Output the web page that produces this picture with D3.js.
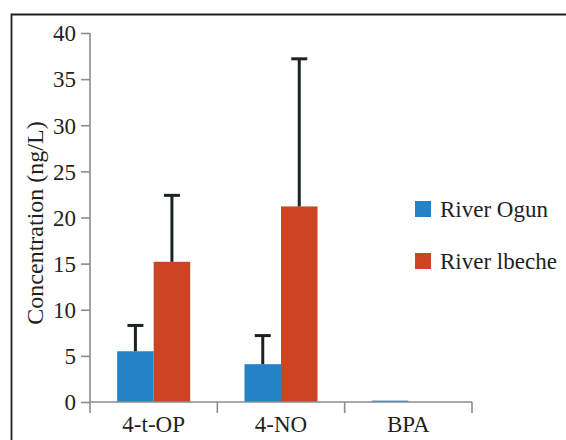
<!DOCTYPE html>
<html><head><meta charset="utf-8">
<script src="https://cdn.jsdelivr.net/npm/d3@7"></script>
<style>body{margin:0;background:#fff}svg{display:block}</style>
</head><body>
<script>
const categories = ["4-t-OP", "4-NO", "BPA"];
const seriesNames = ["River Ogun", "River lbeche"];
const ogunValues = [5.5, 4.1, 0.15];
const ogunErrors = [8.3, 7.2, null];
const ibecheValues = [15.2, 21.2, 0];
const ibecheErrors = [22.4, 37.2, null];
const yTicks = [0, 5, 10, 15, 20, 25, 30, 35, 40];
const colors = ["#2383c4", "#cc4423"];

const W = 566, H = 440;
const svg = d3.select("body").append("svg").attr("width", W).attr("height", H);
const font = "'Liberation Serif','Times New Roman',serif";

// frame
svg.append("path").attr("d", `M11.5,${H} V14.5 H${W}`).attr("fill", "none")
  .attr("stroke", "#231f1c").attr("stroke-width", 1.8);

const x0 = d3.scaleBand().domain(categories).range([90, 472]);
const y = d3.scaleLinear().domain([0, 40]).range([402, 33]);
const x1 = d3.scaleBand().domain(seriesNames).range([0, 73]);
const off = (x0.bandwidth() - 73) / 2;

const data = categories.map((c, i) => ({
  cat: c,
  vals: [
    {s: seriesNames[0], v: ogunValues[i], e: ogunErrors[i], col: colors[0]},
    {s: seriesNames[1], v: ibecheValues[i], e: ibecheErrors[i], col: colors[1]}
  ]
}));

const g = svg.append("g");
data.forEach(d => {
  d.vals.forEach(b => {
    const bx = x0(d.cat) + off + x1(b.s);
    if (b.v > 0) {
      g.append("rect").attr("x", bx).attr("y", y(b.v)).attr("width", x1.bandwidth())
        .attr("height", y(0) - y(b.v)).attr("fill", b.col);
    }
    if (b.e != null) {
      const cx = bx + x1.bandwidth() / 2;
      g.append("line").attr("x1", cx).attr("x2", cx).attr("y1", y(b.v)).attr("y2", y(b.e))
        .attr("stroke", "#1b2224").attr("stroke-width", 3);
      g.append("line").attr("x1", cx - 8).attr("x2", cx + 8).attr("y1", y(b.e)).attr("y2", y(b.e))
        .attr("stroke", "#1b2224").attr("stroke-width", 3);
    }
  });
});

// y axis
const yAxis = d3.axisLeft(y).tickValues(yTicks).tickSize(9).tickPadding(5);
const ya = svg.append("g").attr("transform", "translate(90,0)").call(yAxis);
ya.select(".domain").attr("d", `M0,${y(40)}V${y(0) + 11}`);
ya.selectAll(".tick text").attr("dy", "0.34em");
// x axis
const xa = svg.append("g").attr("transform", `translate(0,${y(0)})`);
xa.append("line").attr("x1", 90).attr("x2", 472).attr("y1", 0).attr("y2", 0);
x0.domain().forEach((c, i) => {
  const xr = x0(c) + x0.bandwidth();
  xa.append("line").attr("x1", xr).attr("x2", xr).attr("y1", 0).attr("y2", 11);
  xa.append("text").attr("x", x0(c) + x0.bandwidth() / 2).attr("y", 30)
    .attr("text-anchor", "middle").text(c);
});
[ya, xa].forEach(a => {
  a.selectAll("line,path").attr("stroke", "#8a8d90").attr("stroke-width", 1.6);
  a.selectAll("text").attr("font-family", font).attr("font-size", 23).attr("fill", "#231f1c");
});

// y label
svg.append("text").attr("transform", "translate(42.5,223) rotate(-90)")
  .attr("text-anchor", "middle").attr("font-family", font).attr("font-size", 24)
  .attr("fill", "#231f1c").text("Concentration (ng/L)");

// legend
const leg = svg.append("g");
seriesNames.forEach((s, i) => {
  const ly = 201 + i * 52;
  leg.append("rect").attr("x", 415).attr("y", ly).attr("width", 16).attr("height", 16).attr("fill", colors[i]);
  leg.append("text").attr("x", 440).attr("y", ly + 16).attr("font-family", font).attr("font-size", 23)
    .attr("fill", "#231f1c").text(s);
});
</script>
</body></html>
